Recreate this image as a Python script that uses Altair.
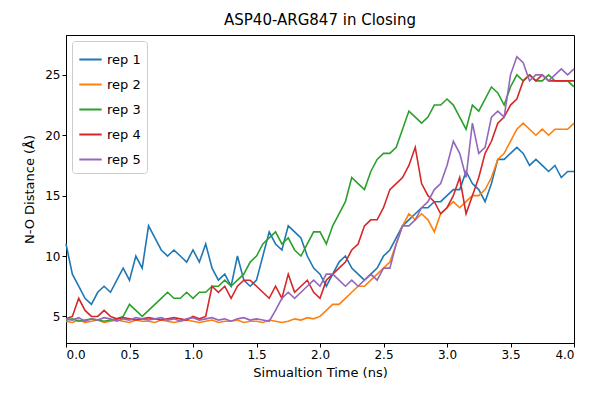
import pandas as pd
import altair as alt

time = [round(i * 0.05, 2) for i in range(81)]

rep1 = [11, 8.5, 7.5, 6.5, 6, 7, 7.5, 7, 8, 9, 8, 10, 9, 12.5, 11.5, 10.5, 10, 10.5, 10, 9.5,
        10.5, 9.5, 11, 9, 8, 8.5, 7.5, 10, 8, 7.5, 8, 10, 12, 11, 10.5, 12.5, 12, 11.5, 10, 9,
        8.5, 7.5, 8.5, 9.5, 10, 9, 8.5, 8, 8.5, 9, 10, 10.5, 11.5, 12.5, 13, 13.5, 14, 14, 14.5, 14.5,
        15, 15.5, 15.5, 17, 16, 15.5, 14.5, 16, 18, 18, 18.5, 19, 18.5, 17.5, 18, 17.5, 17, 17.5, 16.5, 17,
        17]
rep2 = [4.6, 4.5, 4.7, 4.5, 4.6, 4.7, 4.5, 4.6, 4.7, 4.6, 4.5, 4.7, 4.6, 4.6, 4.5, 4.7, 4.6, 4.5, 4.6, 4.7,
        4.6, 4.5, 4.6, 4.7, 4.5, 4.6, 4.6, 4.7, 4.5, 4.6, 4.6, 4.5, 4.7, 4.6, 4.5, 4.6, 4.8, 4.7, 4.9, 4.8,
        5, 5.5, 6, 6, 6.5, 7, 7.5, 7.5, 8, 8.5, 9, 9.5, 11, 12.5, 13.5, 13, 13.5, 13, 12, 13.5,
        14, 14.5, 14, 14.5, 15, 15, 15.5, 16.5, 18, 18.5, 19.5, 20.5, 21, 20.5, 20, 20.5, 20, 20.5, 20.5, 20.5,
        21]
rep3 = [4.7, 4.8, 4.6, 4.7, 4.8, 4.7, 4.6, 4.7, 4.8, 5, 6, 5.5, 5, 5.5, 6, 6.5, 7, 6.5, 6.5, 7,
        6.5, 7, 7, 7.5, 7.5, 8, 7.5, 8, 8.5, 9.5, 10, 11, 11.5, 12, 11, 11.5, 10.5, 10, 11, 12,
        12, 11, 12.5, 13.5, 14.5, 16.5, 16, 15.5, 17, 18, 18.5, 18.5, 19, 20.5, 22, 21.5, 21, 21.5, 22.5, 22.5,
        23, 22.5, 21.5, 20.5, 22.5, 22, 23, 24, 23.5, 22.5, 24, 25, 24.5, 25, 24.5, 24.5, 25, 24.5, 24.5, 24.5,
        24]
rep4 = [4.8, 5, 6.5, 5.5, 5, 5, 5.5, 5, 4.8, 4.9, 4.8, 4.7, 4.8, 4.9, 4.8, 4.7, 4.8, 4.9, 4.8, 4.7,
        5, 4.8, 5, 7.5, 7, 7.5, 6.5, 7.5, 8, 8, 7.5, 7, 6.5, 7.5, 6.5, 8.5, 7, 7.5, 8, 7,
        6.5, 8, 8.5, 9, 9.5, 10.5, 11, 12.5, 13, 13, 14, 15.5, 16, 16.5, 17.5, 19, 16, 15, 14.5, 13.5,
        14, 15, 16.5, 13.5, 15, 16.5, 18.5, 19.5, 21, 21.5, 22.5, 23, 24.5, 25, 24.5, 25, 24.5, 24.5, 24.5, 24.5,
        24.5]
rep5 = [4.8, 4.7, 4.9, 4.6, 4.8, 4.7, 4.9, 4.8, 4.6, 4.8, 4.7, 4.9, 4.8, 4.7, 4.8, 4.9, 4.7, 4.8, 4.6, 4.8,
        4.9, 4.7, 4.8, 4.9, 4.7, 4.8, 4.6, 4.8, 4.9, 4.7, 4.8, 4.7, 4.6, 5.5, 6.5, 7, 6.5, 7, 7.5, 8,
        7.5, 8.5, 8.5, 8, 7.5, 8, 7.5, 8, 8.5, 8, 9, 9, 11, 12.5, 12.5, 13, 14, 14.5, 15.5, 16,
        17.5, 19.5, 18.5, 16.5, 21, 18.5, 19, 21.5, 22, 21.5, 25, 26.5, 26, 24.5, 25, 25, 24.5, 25, 25.5, 25,
        25.5]

series = {"rep 1": rep1, "rep 2": rep2, "rep 3": rep3, "rep 4": rep4, "rep 5": rep5}
df = pd.concat([pd.DataFrame({"Time": time, "Distance": v, "rep": k}) for k, v in series.items()])

chart = alt.Chart(df).mark_line(strokeWidth=1.6).encode(
    x=alt.X("Time:Q", title="Simualtion Time (ns)",
            scale=alt.Scale(domain=[0, 4], nice=False),
            axis=alt.Axis(values=[0, 0.5, 1, 1.5, 2, 2.5, 3, 3.5, 4], format=".1f", grid=False,
                          labelOverlap=False, titlePadding=6)),
    y=alt.Y("Distance:Q", title="N-O Distance (Å)",
            scale=alt.Scale(domain=[2.8, 28.3], nice=False, zero=False),
            axis=alt.Axis(values=[5, 10, 15, 20, 25], grid=False, titlePadding=8)),
    color=alt.Color("rep:N", title=None,
                    scale=alt.Scale(domain=list(series),
                                    range=["#1f77b4", "#ff7f0e", "#2ca02c", "#d62728", "#9467bd"]),
                    legend=alt.Legend(orient="top-left", symbolType="stroke", symbolSize=500,
                                      symbolStrokeWidth=2, labelFontSize=13, rowPadding=5,
                                      strokeColor="#ccc", fillColor="white", padding=6,
                                      cornerRadius=3, offset=6)),
).properties(
    width=508, height=308,
    title=alt.Title("ASP40-ARG847 in Closing", fontSize=15, fontWeight="normal", offset=7),
    autosize=alt.AutoSizeParams(type="none"),
    padding={"left": 58, "top": 27, "right": 10, "bottom": 50},
).configure_axis(
    domainColor="black", tickColor="black", labelColor="black", titleColor="black",
    labelFontSize=12, titleFontSize=13, titleFontWeight="normal", labelFont="DejaVu Sans",
    titleFont="DejaVu Sans", tickSize=4
).configure_legend(labelFont="DejaVu Sans").configure_title(font="DejaVu Sans").configure_view(stroke="black")

chart.save("out.html", embed_options={"renderer": "svg", "actions": False})
